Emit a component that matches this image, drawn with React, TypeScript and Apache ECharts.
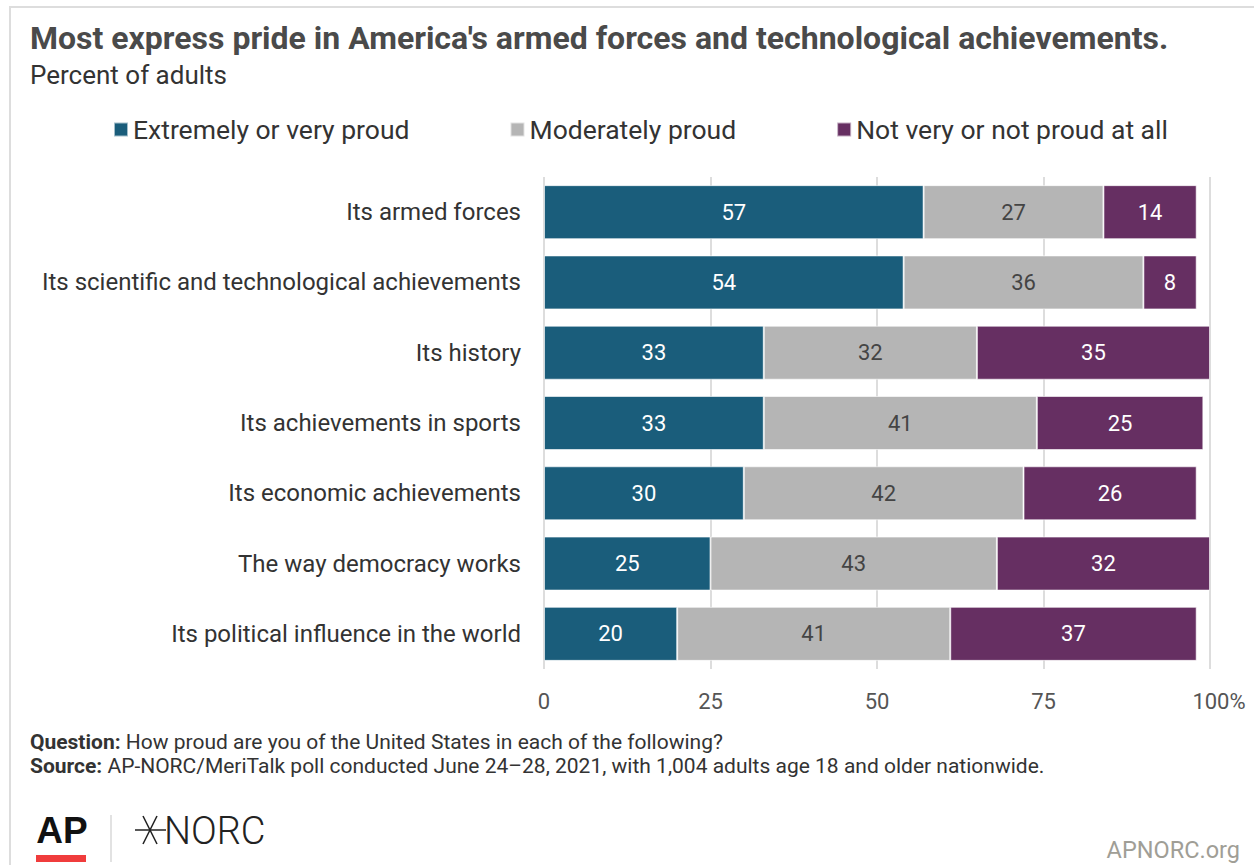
import React, { useEffect, useRef } from "react";
import * as echarts from "echarts";

const categories = [
  "Its armed forces",
  "Its scientific and technological achievements",
  "Its history",
  "Its achievements in sports",
  "Its economic achievements",
  "The way democracy works",
  "Its political influence in the world",
];
const extremelyProud = [57, 54, 33, 33, 30, 25, 20];
const moderatelyProud = [27, 36, 32, 41, 42, 43, 41];
const notProud = [14, 8, 35, 25, 26, 32, 37];
const seriesNames = ["Extremely or very proud", "Moderately proud", "Not very or not proud at all"];
const tickValues = [0, 25, 50, 75, 100];

const FONT = "Roboto, 'Noto Sans', sans-serif";

export default function App() {
  const ref = useRef<HTMLDivElement>(null);
  useEffect(() => {
    if (!ref.current) return;
    const chart = echarts.init(ref.current, undefined, { renderer: "svg" });
    const colors = ["#1a5d7b", "#b5b5b5", "#662f62"];
    const labelColors = ["#ffffff", "#444444", "#ffffff"];
    const data = [extremelyProud, moderatelyProud, notProud];
    chart.setOption({
      animation: false,
      textStyle: { fontFamily: FONT },
      legend: {
        left: 113,
        top: 116,
        padding: 0,
        itemWidth: 14,
        itemHeight: 14,
        itemGap: 100,
        itemTextGap: 6,
        icon: "rect",
        textStyle: { fontSize: 26.5, color: "#333", fontFamily: FONT },
        data: seriesNames,
      },
      grid: { left: 544, right: 44, top: 177, bottom: 196, containLabel: false },
      xAxis: {
        type: "value",
        min: 0,
        max: 100,
        interval: 25,
        axisLine: { show: false },
        axisTick: { show: false },
        splitLine: { show: true, lineStyle: { color: "#dddddd", width: 2 } },
        axisLabel: {
          fontSize: 22,
          color: "#555",
          margin: 21,
          fontFamily: FONT,
          formatter: (v: number) => (v === 100 ? "{p|" + tickValues[4] + "%}" : String(v)),
          rich: { p: { fontSize: 22, color: "#555", fontFamily: FONT, padding: [0, 0, 0, 18] } },
        },
      },
      yAxis: {
        type: "category",
        data: categories,
        inverse: true,
        axisLine: { show: false },
        axisTick: { show: false },
        axisLabel: { fontSize: 24, color: "#333", margin: 23, fontFamily: FONT },
      },
      series: seriesNames.map((name, i) => ({
        name,
        type: "bar",
        stack: "total",
        barWidth: 54,
        data: data[i],
        itemStyle: { color: colors[i], borderColor: "rgba(255,255,255,0.6)", borderWidth: 1 },
        label: {
          show: true,
          position: "inside",
          fontSize: 22,
          color: labelColors[i],
          fontFamily: FONT,
        },
      })),
      graphic: [
        {
          type: "rect",
          shape: { x: 10, y: 7, width: 1400, height: 1000 },
          style: { fill: "none", stroke: "#dddddd", lineWidth: 2 },
          silent: true,
        },
        {
          type: "text",
          x: 30,
          y: 38,
          style: {
            text: "Most express pride in America's armed forces and technological achievements.",
            font: `bold 32px ${FONT}`,
            fill: "#4a4a4a",
            textVerticalAlign: "middle",
          },
        },
        {
          type: "text",
          x: 30,
          y: 75,
          style: { text: "Percent of adults", font: `26px ${FONT}`, fill: "#333", textVerticalAlign: "middle" },
        },
        {
          type: "text",
          x: 30,
          y: 742,
          style: {
            text: "{b|Question:} How proud are you of the United States in each of the following?",
            font: `21px ${FONT}`,
            fill: "#333",
            textVerticalAlign: "middle",
            rich: { b: { fontWeight: "bold", fontSize: 21, fontFamily: FONT, fill: "#333" } },
          },
        },
        {
          type: "text",
          x: 30,
          y: 766,
          style: {
            text: "{b|Source:} AP-NORC/MeriTalk poll conducted June 24\u201328, 2021, with 1,004 adults age 18 and older nationwide.",
            font: `21px ${FONT}`,
            fill: "#333",
            textVerticalAlign: "middle",
            rich: { b: { fontWeight: "bold", fontSize: 21, fontFamily: FONT, fill: "#333" } },
          },
        },
        {
          type: "text",
          x: 62,
          y: 830,
          style: {
            text: "AP",
            font: `bold 37px 'Liberation Sans', Arial, sans-serif`,
            fill: "#111",
            textAlign: "center",
            textVerticalAlign: "middle",
          },
        },
        { type: "rect", shape: { x: 36, y: 855, width: 50, height: 7 }, style: { fill: "#f03c3c" } },
        { type: "line", shape: { x1: 111, y1: 815, x2: 111, y2: 862 }, style: { stroke: "#d8d8d8", lineWidth: 1.5 } },
        { type: "line", shape: { x1: 135, y1: 830, x2: 166, y2: 830 }, style: { stroke: "#222", lineWidth: 1.5 } },
        { type: "line", shape: { x1: 143, y1: 816, x2: 157, y2: 844 }, style: { stroke: "#222", lineWidth: 1.5 } },
        { type: "line", shape: { x1: 157, y1: 816, x2: 143, y2: 844 }, style: { stroke: "#222", lineWidth: 1.5 } },
        {
          type: "text",
          x: 164,
          y: 831,
          style: { text: "NORC", font: `300 38px ${FONT}`, fill: "#222", textVerticalAlign: "middle" },
        },
        {
          type: "text",
          x: 1240,
          y: 850,
          style: {
            text: "APNORC.org",
            font: `23.5px ${FONT}`,
            fill: "#a09e96",
            textAlign: "right",
            textVerticalAlign: "middle",
          },
        },
      ],
    });
    return () => chart.dispose();
  }, []);
  return (
    <div
      ref={ref}
      style={{ position: "fixed", left: 0, top: 0, width: 1254, height: 865, background: "#fff" }}
    />
  );
}
